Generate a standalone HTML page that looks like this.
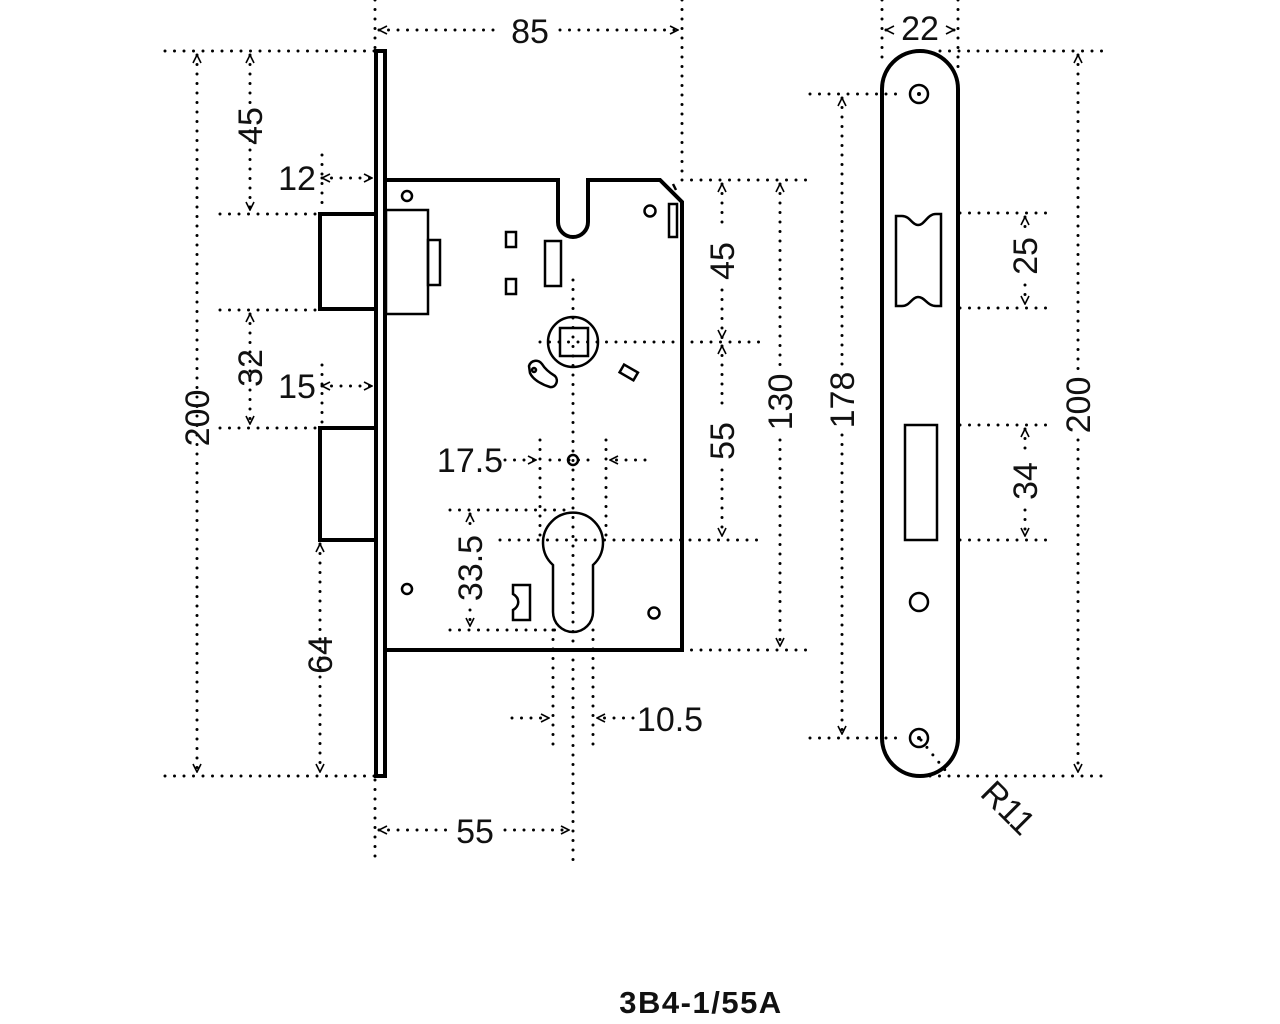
<!DOCTYPE html>
<html><head><meta charset="utf-8"><style>
html,body{margin:0;padding:0;background:#fff;width:1280px;height:1024px;overflow:hidden}
text{font-family:"Liberation Sans",sans-serif;font-size:34px;fill:#111}
</style></head><body>
<svg width="1280" height="1024" viewBox="0 0 1280 1024" xmlns="http://www.w3.org/2000/svg">
<defs>
<marker id="a" viewBox="0 0 10 10" refX="9" refY="5" markerWidth="10" markerHeight="10" markerUnits="userSpaceOnUse" orient="auto-start-reverse">
<path d="M1 1 L9 5 L1 9" fill="none" stroke="#000" stroke-width="1.6"/></marker>
</defs>
<g fill="none" stroke="#000" stroke-width="3" stroke-linecap="round" stroke-dasharray="0 9.5">
<line x1="165" y1="51" x2="375" y2="51"/>
<line x1="165" y1="776" x2="375" y2="776"/>
<line x1="197" y1="55" x2="197" y2="772" marker-start="url(#a)" marker-end="url(#a)"/>
<line x1="250" y1="55" x2="250" y2="210" marker-start="url(#a)" marker-end="url(#a)"/>
<line x1="250" y1="314" x2="250" y2="424" marker-start="url(#a)" marker-end="url(#a)"/>
<line x1="220" y1="214" x2="318" y2="214"/>
<line x1="220" y1="310" x2="318" y2="310"/>
<line x1="220" y1="428" x2="318" y2="428"/>
<line x1="322" y1="155" x2="322" y2="212"/>
<line x1="322" y1="178" x2="372" y2="178" marker-end="url(#a)" marker-start="url(#a)"/>
<line x1="322" y1="365" x2="322" y2="426"/>
<line x1="322" y1="386" x2="372" y2="386" marker-end="url(#a)" marker-start="url(#a)"/>
<line x1="320" y1="544" x2="320" y2="772" marker-start="url(#a)" marker-end="url(#a)"/>
<line x1="375" y1="0" x2="375" y2="50"/>
<line x1="682" y1="0" x2="682" y2="178"/>
<line x1="379" y1="30" x2="500" y2="30" marker-start="url(#a)"/>
<line x1="560" y1="30" x2="678" y2="30" marker-end="url(#a)"/>
<line x1="375" y1="780" x2="375" y2="862"/>
<line x1="573" y1="280" x2="573" y2="862"/>
<line x1="379" y1="830" x2="450" y2="830" marker-start="url(#a)"/>
<line x1="505" y1="830" x2="569" y2="830" marker-end="url(#a)"/>
<line x1="553" y1="630" x2="553" y2="750"/>
<line x1="593" y1="630" x2="593" y2="750"/>
<line x1="512" y1="718" x2="549" y2="718" marker-end="url(#a)"/>
<line x1="633" y1="718" x2="597" y2="718" marker-end="url(#a)"/>
<line x1="540" y1="440" x2="540" y2="540"/>
<line x1="606" y1="440" x2="606" y2="540"/>
<line x1="505" y1="460" x2="536" y2="460" marker-end="url(#a)"/>
<line x1="645" y1="460" x2="610" y2="460" marker-end="url(#a)"/>
<line x1="550" y1="460" x2="596" y2="460"/>
<line x1="450" y1="510" x2="573" y2="510"/>
<line x1="450" y1="630" x2="560" y2="630"/>
<line x1="470" y1="514" x2="470" y2="530" marker-start="url(#a)"/>
<line x1="470" y1="610" x2="470" y2="626" marker-end="url(#a)"/>
<line x1="500" y1="540" x2="590" y2="540"/>
<line x1="682" y1="180" x2="815" y2="180"/>
<line x1="540" y1="342" x2="760" y2="342"/>
<line x1="595" y1="540" x2="760" y2="540"/>
<line x1="682" y1="650" x2="815" y2="650"/>
<line x1="722" y1="184" x2="722" y2="230" marker-start="url(#a)"/>
<line x1="722" y1="290" x2="722" y2="338" marker-end="url(#a)"/>
<line x1="722" y1="346" x2="722" y2="410" marker-start="url(#a)"/>
<line x1="722" y1="470" x2="722" y2="536" marker-end="url(#a)"/>
<line x1="780" y1="184" x2="780" y2="365" marker-start="url(#a)"/>
<line x1="780" y1="440" x2="780" y2="646" marker-end="url(#a)"/>
<line x1="810" y1="94" x2="905" y2="94"/>
<line x1="810" y1="738" x2="905" y2="738"/>
<line x1="842" y1="98" x2="842" y2="365" marker-start="url(#a)"/>
<line x1="842" y1="435" x2="842" y2="734" marker-end="url(#a)"/>
<line x1="940" y1="51" x2="1110" y2="51"/>
<line x1="930" y1="776" x2="1110" y2="776"/>
<line x1="1078" y1="55" x2="1078" y2="370" marker-start="url(#a)"/>
<line x1="1078" y1="440" x2="1078" y2="772" marker-end="url(#a)"/>
<line x1="960" y1="213" x2="1055" y2="213"/>
<line x1="960" y1="308" x2="1055" y2="308"/>
<line x1="960" y1="425" x2="1055" y2="425"/>
<line x1="960" y1="540" x2="1055" y2="540"/>
<line x1="1025" y1="217" x2="1025" y2="228" marker-start="url(#a)"/>
<line x1="1025" y1="285" x2="1025" y2="304" marker-end="url(#a)"/>
<line x1="1025" y1="429" x2="1025" y2="450" marker-start="url(#a)"/>
<line x1="1025" y1="510" x2="1025" y2="536" marker-end="url(#a)"/>
<line x1="882" y1="0" x2="882" y2="60"/>
<line x1="958" y1="0" x2="958" y2="70"/>
<line x1="886" y1="30" x2="895" y2="30" marker-start="url(#a)"/>
<line x1="954" y1="30" x2="945" y2="30" marker-start="url(#a)"/>
<line x1="921" y1="740" x2="945" y2="770"/>
</g>
<g fill="none" stroke="#000" stroke-width="4">
<rect x="376" y="51" width="9" height="725"/>
<path d="M385 180 H558 V222 A15 15 0 0 0 588 222 V180 H660 L682 202 V650 H385"/>
<rect x="320" y="214" width="56" height="95"/>
<rect x="320" y="428" width="56" height="112"/>
<rect x="882" y="51" width="76" height="725" rx="38"/>
</g>
<g fill="none" stroke="#000" stroke-width="2.5">
<path d="M673 184 L676 190"/>
<rect x="386" y="210" width="42" height="104"/>
<rect x="428" y="240" width="12" height="45"/>
<circle cx="407" cy="196" r="5"/>
<circle cx="650" cy="211" r="5.5"/>
<rect x="669" y="204" width="8" height="33"/>
<rect x="506" y="232" width="10" height="15"/>
<rect x="506" y="279" width="10" height="15"/>
<rect x="545" y="241" width="16" height="45"/>
<circle cx="573" cy="342" r="25"/>
<rect x="560" y="328" width="28" height="28"/>
<path d="M529 366 C531 360 538 359 542 364 C545 369 550 373 555 376 C559 380 556 388 550 387 C543 385 533 380 530 373 Z"/>
<circle cx="534" cy="370" r="2"/>
<rect x="621" y="368" width="16" height="9" transform="rotate(30 629 372)"/>
<circle cx="573" cy="460" r="5"/>
<path d="M553 565 A30 30 0 1 1 593 565 V612 A20 20 0 0 1 553 612 Z"/>
<circle cx="407" cy="589" r="5"/>
<circle cx="654" cy="613" r="5.5"/>
<path d="M513 585 H530 V620 H513 V610 C520 606 520 598 513 594 Z"/>
<circle cx="919" cy="94" r="9"/>
<circle cx="919" cy="602" r="9"/>
<circle cx="919" cy="738" r="9"/>
<path d="M896 216 H902 C910 216 912 225 918 225 C925 225 927 214 936 214 H941 V306 H936 C927 306 925 297 918 297 C912 297 910 306 902 306 H896 Z"/>
<rect x="905" y="425" width="32" height="115"/>
</g>
<circle cx="919" cy="94" r="2" fill="#000"/>
<circle cx="919" cy="738" r="2" fill="#000"/>
<g>
<text x="530" y="43" text-anchor="middle">85</text>
<text x="920" y="40" text-anchor="middle">22</text>
<text x="297" y="190" text-anchor="middle">12</text>
<text x="297" y="398" text-anchor="middle">15</text>
<text x="470" y="472" text-anchor="middle">17.5</text>
<text x="475" y="843" text-anchor="middle">55</text>
<text x="670" y="731" text-anchor="middle">10.5</text>
<text transform="translate(209,418) rotate(-90)" text-anchor="middle">200</text>
<text transform="translate(262,126) rotate(-90)" text-anchor="middle">45</text>
<text transform="translate(262,368) rotate(-90)" text-anchor="middle">32</text>
<text transform="translate(332,655) rotate(-90)" text-anchor="middle">64</text>
<text transform="translate(482,568) rotate(-90)" text-anchor="middle">33.5</text>
<text transform="translate(734,261) rotate(-90)" text-anchor="middle">45</text>
<text transform="translate(734,441) rotate(-90)" text-anchor="middle">55</text>
<text transform="translate(792,402) rotate(-90)" text-anchor="middle">130</text>
<text transform="translate(854,400) rotate(-90)" text-anchor="middle">178</text>
<text transform="translate(1090,405) rotate(-90)" text-anchor="middle">200</text>
<text transform="translate(1037,256) rotate(-90)" text-anchor="middle">25</text>
<text transform="translate(1037,481) rotate(-90)" text-anchor="middle">34</text>
<text transform="translate(1000,816) rotate(45)" text-anchor="middle">R11</text>
<text x="701" y="1013" text-anchor="middle" style="font-weight:bold;font-size:31px;letter-spacing:1.5px">3B4-1/55A</text>
</g>
</svg>
</body></html>
